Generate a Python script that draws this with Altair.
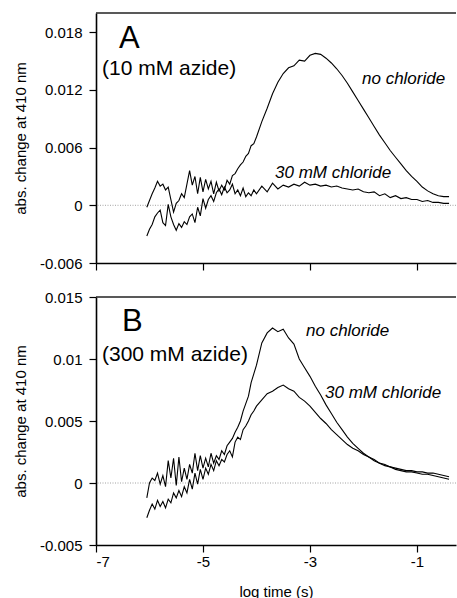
import altair as alt
import pandas as pd

# ---------------- data ----------------
log_time = [-6.05, -6.00, -5.95, -5.90, -5.85, -5.80, -5.75, -5.70, -5.65, -5.60,
            -5.55, -5.50, -5.45, -5.40, -5.35, -5.30, -5.25, -5.20, -5.15, -5.10,
            -5.05, -5.00, -4.95, -4.90, -4.85, -4.80, -4.75, -4.70, -4.65, -4.60,
            -4.55, -4.50, -4.45, -4.40, -4.35, -4.30, -4.25, -4.20, -4.15, -4.10,
            -4.05, -4.00,
            -3.9, -3.8, -3.7, -3.6, -3.5, -3.4, -3.3, -3.2, -3.1, -3.0,
            -2.9, -2.8, -2.7, -2.6, -2.5, -2.4, -2.3, -2.2, -2.1, -2.0,
            -1.9, -1.8, -1.7, -1.6, -1.5, -1.4, -1.3, -1.2, -1.1, -1.0,
            -0.9, -0.8, -0.7, -0.6, -0.5, -0.4]

a_no_chloride = [-0.0002, 0.0005, 0.0012, 0.0018, 0.0025, 0.0020, 0.0022, 0.0016, 0.0019, 0.0006,
                 -0.0007, 0.0002, 0.0005, 0.0012, 0.0008, 0.0022, 0.0036, 0.0021, 0.0030, 0.0012,
                 0.0029, 0.0014, 0.0027, 0.0017, 0.0025, 0.0012, 0.0024, 0.0015, 0.0021, 0.0016,
                 0.0026, 0.0022, 0.0031, 0.0033, 0.0038, 0.0042, 0.0045, 0.0051, 0.0054, 0.0062,
                 0.0064, 0.0071,
                 0.0087, 0.0101, 0.0116, 0.0128, 0.0137, 0.0143, 0.0145, 0.0151, 0.0150, 0.0156,
                 0.0158, 0.0157, 0.0153, 0.0148, 0.0142, 0.0135, 0.0127, 0.0118, 0.0109, 0.0100,
                 0.0091, 0.0082, 0.0073, 0.0065, 0.0057, 0.0050, 0.0043, 0.0036, 0.0030, 0.0025,
                 0.0019, 0.0015, 0.0012, 0.0010, 0.0009, 0.0009]

a_30mm_chloride = [-0.0032, -0.0025, -0.0020, -0.0012, -0.0008, -0.0005, -0.0018, -0.0021, 0.0001, -0.0012,
                   -0.0020, -0.0026, -0.0019, -0.0023, -0.0017, -0.0020, -0.0012, -0.0009, -0.0018, -0.0002,
                   -0.0011, 0.0007, -0.0003, 0.0006, 0.0010, 0.0004, 0.0013, 0.0017, 0.0011, 0.0019,
                   0.0013, 0.0016, 0.0022, 0.0012, 0.0016, 0.0010, 0.0018, 0.0009, 0.0013, 0.0010,
                   0.0016, 0.0012,
                   0.0020, 0.0014, 0.0023, 0.0017, 0.0021, 0.0019, 0.0022, 0.0020, 0.0024, 0.0021,
                   0.0022, 0.0020, 0.0021, 0.0019, 0.0020, 0.0018, 0.0017, 0.0016, 0.0017, 0.0014,
                   0.0013, 0.0014, 0.0010, 0.0012, 0.0008, 0.0010, 0.0007, 0.0008, 0.0006, 0.0006,
                   0.0004, 0.0005, 0.0003, 0.0003, 0.0002, 0.0002]

b_no_chloride = [-0.0012, 0.0000, 0.0004, 0.0002, 0.0008, -0.0001, 0.0006, -0.0003, 0.0018, 0.0004,
                 0.0020, -0.0002, 0.0021, 0.0001, 0.0012, 0.0003, 0.0015, 0.0008, 0.0024, 0.0010,
                 0.0022, 0.0012, 0.0020, 0.0013, 0.0024, 0.0016, 0.0022, 0.0019, 0.0026, 0.0023,
                 0.0030, 0.0033, 0.0036, 0.0041, 0.0045, 0.0050, 0.0058, 0.0064, 0.0070, 0.0081,
                 0.0088, 0.0095,
                 0.0113, 0.0121, 0.0125, 0.0122, 0.0124, 0.0117, 0.0112, 0.0100, 0.0093, 0.0086,
                 0.0078, 0.0071, 0.0063, 0.0056, 0.0049, 0.0043, 0.0037, 0.0032, 0.0028, 0.0024,
                 0.0021, 0.0018, 0.0016, 0.0014, 0.0013, 0.0011, 0.0010, 0.0009, 0.0009, 0.0008,
                 0.0007, 0.0007, 0.0006, 0.0005, 0.0004, 0.0003]

b_30mm_chloride = [-0.0028, -0.0022, -0.0017, -0.0021, -0.0014, -0.0019, -0.0015, -0.0020, -0.0013, -0.0016,
                   -0.0008, -0.0012, -0.0006, -0.0011, -0.0003, -0.0008, 0.0003, -0.0005, 0.0008, -0.0001,
                   0.0011, 0.0003, 0.0012, 0.0007, 0.0015, 0.0010, 0.0018, 0.0014, 0.0019, 0.0017,
                   0.0023, 0.0026, 0.0021, 0.0033, 0.0037, 0.0035, 0.0043, 0.0046, 0.0050, 0.0055,
                   0.0058, 0.0062,
                   0.0067, 0.0072, 0.0074, 0.0077, 0.0079, 0.0076, 0.0074, 0.0069, 0.0066, 0.0062,
                   0.0057, 0.0052, 0.0048, 0.0043, 0.0039, 0.0035, 0.0031, 0.0028, 0.0026, 0.0023,
                   0.0021, 0.0019, 0.0016, 0.0015, 0.0013, 0.0012, 0.0011, 0.0010, 0.0010, 0.0009,
                   0.0009, 0.0008, 0.0008, 0.0007, 0.0006, 0.0005]

x_ticks = [-7, -5, -3, -1]
y_ticks_a = [-0.006, 0, 0.006, 0.012, 0.018]
y_ticks_b = [-0.005, 0, 0.005, 0.01, 0.015]

# ---------------- layout / style ----------------
W = 360
H_A, H_B = 250, 248
FONT = "Liberation Sans"
X_DOMAIN = [-7, -0.27]

one_row = pd.DataFrame({"k": [0]})

y_label_expr = "datum.value == 0 ? '0' : (datum.value < 0 ? '-' : '') + format(abs(datum.value), '~g')"
x_label_expr = "(datum.value < 0 ? '-' : '') + format(abs(datum.value), 'd')"


def text_layer(txt, px, py, size, italic=False):
    return alt.Chart(one_row).mark_text(
        align="left", baseline="alphabetic", font=FONT, fontSize=size,
        fontStyle="italic" if italic else "normal", color="black",
    ).encode(x=alt.value(px), y=alt.value(py), text=alt.value(txt))


def panel(s1, s2, ydomain, yticks, show_x, texts, height):
    n = len(log_time)
    df = pd.DataFrame({
        "t": log_time + log_time,
        "v": s1 + s2,
        "series": ["no chloride"] * n + ["30 mM chloride"] * n,
    })
    if show_x:
        x_enc = alt.X("t:Q", scale=alt.Scale(domain=X_DOMAIN, nice=False, zero=False),
                      axis=alt.Axis(values=x_ticks, labelExpr=x_label_expr,
                                    title="log time (s)"))
    else:
        x_enc = alt.X("t:Q", scale=alt.Scale(domain=X_DOMAIN, nice=False, zero=False),
                      axis=alt.Axis(values=x_ticks, labels=False), title=None)
    y_enc = alt.Y("v:Q", scale=alt.Scale(domain=ydomain, nice=False, zero=False),
                  axis=alt.Axis(values=yticks, labelExpr=y_label_expr,
                                title="abs. change at 410 nm"))
    lines = alt.Chart(df).mark_line(color="black", strokeWidth=1.1).encode(
        x=x_enc, y=y_enc, detail="series:N")
    zero = alt.Chart(one_row).mark_rule(color="#8a8a8a", strokeWidth=0.8,
                                        strokeDash=[1, 1.5]).encode(y=alt.datum(0))
    top = alt.Chart(one_row).mark_rule(color="#222222", strokeWidth=1.5).encode(
        x=alt.value(0), x2=alt.value(W), y=alt.value(0))
    layers = [zero, lines, top] + [text_layer(*t) for t in texts]
    return alt.layer(*layers).properties(width=W, height=height)


panel_a = panel(a_no_chloride, a_30mm_chloride, [-0.006, 0.020], y_ticks_a, False, [
    ("A", 23, 35, 31),
    ("(10 mM azide)", 6, 62, 21),
    ("no chloride", 266, 71, 17, True),
    ("30 mM chloride", 179, 165, 17, True),
], H_A)

panel_b = panel(b_no_chloride, b_30mm_chloride, [-0.005, 0.015], y_ticks_b, True, [
    ("B", 26, 34, 31),
    ("(300 mM azide)", 6, 64, 21),
    ("no chloride", 210, 39, 17, True),
    ("30 mM chloride", 229, 101, 17, True),
], H_B)

chart = alt.vconcat(panel_a, panel_b, spacing=19).properties(
    padding={"left": 13, "top": 12, "right": 0, "bottom": 0},
    background="white",
).configure_view(stroke=None).configure_axis(
    labelFont=FONT, titleFont=FONT, labelFontSize=15, titleFontSize=15,
    labelColor="black", titleColor="black", titleFontWeight="normal",
    domainColor="black", domainWidth=1.6, tickColor="black", tickWidth=1.2,
    tickSize=7, grid=False,
).configure_axisY(
    labelPadding=7, titlePadding=11,
).configure_axisX(
    labelPadding=2, titlePadding=15,
)

chart.save("out.html", embed_options={"renderer": "svg", "actions": False})
